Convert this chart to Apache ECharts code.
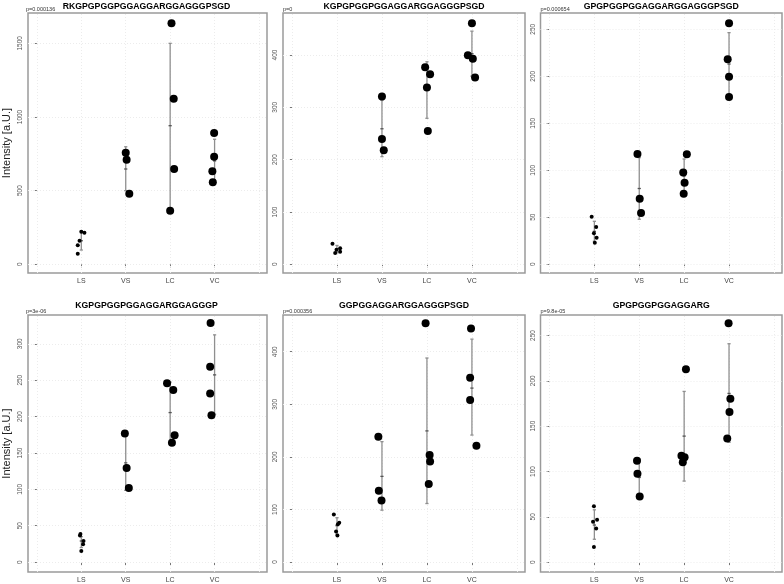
<!DOCTYPE html>
<html>
<head>
<meta charset="utf-8">
<script src="https://cdn.jsdelivr.net/npm/echarts@6/dist/echarts.min.js"></script>
<style>
html,body{margin:0;padding:0;background:#fff;}
#chart{width:784px;height:584px;}
</style>
</head>
<body>
<div id="chart"></div>
<script>
const categories = ['LS', 'VS', 'LC', 'VC'];
const titles = ['RKGPGPGGPGGAGGARGGAGGGPSGD', 'KGPGPGGPGGAGGARGGAGGGPSGD', 'GPGPGGPGGAGGARGGAGGGPSGD',
                'KGPGPGGPGGAGGARGGAGGGP', 'GGPGGAGGARGGAGGGPSGD', 'GPGPGGPGGAGGARG'];
const pValues = ['p=0.000136', 'p=0', 'p=0.000654', 'p=3e-06', 'p=0.000356', 'p=9.8e-05'];

const yTicks1 = [0, 500, 1000, 1500];
const yTicks2 = [0, 100, 200, 300, 400];
const yTicks3 = [0, 50, 100, 150, 200, 250];
const yTicks4 = [0, 50, 100, 150, 200, 250, 300];
const yTicks5 = [0, 100, 200, 300, 400];
const yTicks6 = [0, 50, 100, 150, 200, 250];
const yRanges = [[-59, 1706], [-16.6, 480.2], [-9.3, 267.3], [-13.6, 339.6], [-18.9, 469.8], [-10.9, 272.6]];
const xGridValues = [0, 1, 2, 3, 4, 5];

// Panel 1
const p1Values = [[221, 214.5, 160, 129, 72], [758, 710, 479], [1636, 1124, 647, 364], [891, 731, 631, 557]];
const p1Jitter = [[0, 0.07, -0.04, -0.08, -0.08], [0, 0.02, 0.08], [0.03, 0.08, 0.09, 0], [-0.01, -0.01, -0.05, -0.04]];
const p1Mean = [160, 647, 941, 702];
const p1Low = [97, 500, 382, 558];
const p1High = [226, 798, 1500, 849];
// Panel 2
const p2Values = [[39.4, 27.9, 30.6, 21.6, 24.1], [320.5, 239.6, 218], [376.6, 363, 338, 254.9], [460.8, 399.6, 393, 356.8]];
const p2Jitter = [[-0.1, -0.01, 0.07, -0.04, 0.07], [0, 0, 0.04], [-0.04, 0.07, 0, 0.02], [0, -0.09, 0.02, 0.07]];
const p2Mean = [29, 259, 333, 402.5];
const p2Low = [22, 205.7, 279, 359.5];
const p2High = [36, 313.5, 387, 445.5];
// Panel 3
const p3Values = [[50.6, 39.7, 33, 28.3, 23], [117.3, 69.8, 54.6], [117, 97.5, 86.8, 75.1], [256.4, 218, 199.6, 178]];
const p3Jitter = [[-0.06, 0.04, -0.01, 0.05, 0.01], [-0.04, 0.01, 0.04], [0.06, -0.02, 0.01, -0.01], [0, -0.03, 0, 0]];
const p3Mean = [35, 80.6, 94, 213];
const p3Low = [24.5, 47.9, 76, 179.5];
const p3High = [45.7, 113.4, 112, 246.4];
// Panel 4
const p4Values = [[38.6, 36.5, 29, 24.5, 15.4], [176.8, 129.5, 101.8], [245.9, 236.4, 174.5, 164.1], [328.6, 268.6, 231.8, 201.8]];
const p4Jitter = [[-0.02, -0.03, 0.05, 0.04, 0], [-0.02, 0.02, 0.07], [-0.07, 0.07, 0.1, 0.04], [-0.09, -0.1, -0.1, -0.07]];
const p4Mean = [29, 136.4, 205.5, 257.3];
const p4Low = [20, 98.6, 163.6, 203.2];
const p4High = [35, 176.8, 247.3, 312.3];
// Panel 5
const p5Values = [[90.6, 74.8, 71.7, 57.9, 50.3], [238.4, 135.8, 117], [454, 203.8, 191.2, 148.4], [444, 350.3, 308.2, 221.4]];
const p5Jitter = [[-0.07, 0.05, 0.02, -0.02, 0.01], [-0.08, -0.07, -0.01], [-0.03, 0.06, 0.07, 0.04], [-0.02, -0.04, -0.04, 0.1]];
const p5Mean = [69.2, 162.9, 249.4, 330.8];
const p5Low = [53, 98.7, 111.3, 241.5];
const p5High = [84.3, 229, 388, 423.9];
// Panel 6
const p6Values = [[61.7, 46.7, 44.5, 37.2, 16.8], [111.7, 97.4, 72.3], [212.8, 117.2, 115.7, 110.2], [263.5, 180.3, 165.7, 136.5]];
const p6Jitter = [[-0.01, 0.06, -0.03, 0.04, -0.01], [-0.05, -0.04, 0.01], [0.04, -0.06, 0.01, -0.03], [-0.01, 0.03, 0.01, -0.04]];
const p6Mean = [40.9, 93.4, 139, 186.1];
const p6Low = [25.2, 72, 89.4, 132.1];
const p6High = [57.7, 113.5, 188.3, 240.9];

const panels = [
  {values: p1Values, jitter: p1Jitter, mean: p1Mean, low: p1Low, high: p1High, ticks: yTicks1},
  {values: p2Values, jitter: p2Jitter, mean: p2Mean, low: p2Low, high: p2High, ticks: yTicks2},
  {values: p3Values, jitter: p3Jitter, mean: p3Mean, low: p3Low, high: p3High, ticks: yTicks3},
  {values: p4Values, jitter: p4Jitter, mean: p4Mean, low: p4Low, high: p4High, ticks: yTicks4},
  {values: p5Values, jitter: p5Jitter, mean: p5Mean, low: p5Low, high: p5High, ticks: yTicks5},
  {values: p6Values, jitter: p6Jitter, mean: p6Mean, low: p6Low, high: p6High, ticks: yTicks6}
];

// layout (pixels)
const colLeft = [26, 283, 540.5];
const colWidth = [241, 242, 241.5];
const rowTop = [13, 315];
const rowHeight = [260, 259];
const titleY = [6.5, 305.5];

const FONT = 'Liberation Sans, Arial, sans-serif';
const grids = [], xAxes = [], yAxes = [], series = [], graphics = [];

panels.forEach((p, i) => {
  const col = i % 3, row = Math.floor(i / 3);
  grids.push({
    left: colLeft[col], top: rowTop[row], width: colWidth[col], height: rowHeight[row],
    show: true, borderColor: '#9a9a9a', borderWidth: 1.5, backgroundColor: '#fff', containLabel: false
  });
  xAxes.push({
    type: 'value', gridIndex: i, min: -0.2, max: 5.18,
    axisLine: {show: false},
    splitLine: {show: false},
    axisTick: {show: true, customValues: [1, 2, 3, 4], length: 3, lineStyle: {color: '#777', width: 1}},
    axisLabel: {show: true, customValues: [1, 2, 3, 4], formatter: v => categories[Math.round(v) - 1] || '',
      fontSize: 7, color: '#444', fontFamily: FONT, margin: 5}
  });
  yAxes.push({
    type: 'value', gridIndex: i, min: yRanges[i][0], max: yRanges[i][1],
    axisLine: {show: false},
    splitLine: {show: false},
    axisTick: {show: true, customValues: p.ticks, length: 3, lineStyle: {color: '#777', width: 1}},
    axisLabel: {show: true, customValues: p.ticks, rotate: 90, fontSize: 6.5, color: '#555', fontFamily: FONT, margin: 4,
      formatter: v => String(v)},
    name: col === 0 ? 'Intensity [a.U.]' : '',
    nameLocation: 'middle', nameRotate: 90, nameGap: 16,
    nameTextStyle: {fontSize: 11, color: '#222', fontFamily: FONT}
  });
  // grid lines via markLine (kept beneath everything)
  const gridMarks = xGridValues.map(v => ({xAxis: v})).concat(p.ticks.map(v => ({yAxis: v})));
  series.push({
    type: 'scatter', xAxisIndex: i, yAxisIndex: i, data: [], silent: true, z: 1,
    markLine: {silent: true, symbol: 'none', label: {show: false}, animation: false, z: 1,
      lineStyle: {color: '#ececec', type: [1, 2], width: 1}, emphasis: {disabled: true}, data: gridMarks}
  });
  // error bars
  const ebData = categories.map((c, k) => [k + 1, p.low[k], p.high[k], p.mean[k]]);
  series.push({
    type: 'custom', xAxisIndex: i, yAxisIndex: i, z: 6, silent: true,
    data: ebData,
    renderItem: function (params, api) {
      const x = api.value(0);
      const lo = api.coord([x, api.value(1)]);
      const hi = api.coord([x, api.value(2)]);
      const m = api.coord([x, api.value(3)]);
      const cw = 1.6;
      const st = {stroke: '#8f8f8f', lineWidth: 1.3};
      return {type: 'group', children: [
        {type: 'line', shape: {x1: lo[0], y1: lo[1], x2: hi[0], y2: hi[1]}, style: st},
        {type: 'line', shape: {x1: hi[0] - cw, y1: hi[1], x2: hi[0] + cw, y2: hi[1]}, style: st},
        {type: 'line', shape: {x1: lo[0] - cw, y1: lo[1], x2: lo[0] + cw, y2: lo[1]}, style: st},
        {type: 'line', shape: {x1: m[0] - cw, y1: m[1], x2: m[0] + cw, y2: m[1]}, style: {stroke: '#555', lineWidth: 1.3}}
      ]};
    }
  });
  // points (custom circles)
  p.values.forEach((vals, k) => {
    const r = k === 0 ? 2 : 4;
    series.push({
      type: 'custom', xAxisIndex: i, yAxisIndex: i, z: 8, silent: true,
      data: vals.map((v, j) => [k + 1 + p.jitter[k][j], v]),
      renderItem: function (params, api) {
        const c = api.coord([api.value(0), api.value(1)]);
        return {type: 'circle', shape: {cx: c[0], cy: c[1], r: r}, style: {fill: '#000', stroke: null}};
      }
    });
  });
  // title and p-value
  graphics.push({
    type: 'text', x: colLeft[col] + colWidth[col] / 2, y: titleY[row], silent: true,
    style: {text: titles[i], textAlign: 'center', textVerticalAlign: 'middle',
      font: 'bold 8.7px ' + FONT, fill: '#000'}
  });
  graphics.push({
    type: 'text', x: colLeft[col], y: rowTop[row] - 0.5, silent: true,
    style: {text: pValues[i], textAlign: 'left', textVerticalAlign: 'bottom',
      font: '5.5px ' + FONT, fill: '#333'}
  });
});

const chart = echarts.init(document.getElementById('chart'), null, {renderer: 'canvas'});
chart.setOption({
  animation: false,
  backgroundColor: '#fff',
  grid: grids,
  xAxis: xAxes,
  yAxis: yAxes,
  series: series,
  graphic: graphics
});
</script>
</body>
</html>
